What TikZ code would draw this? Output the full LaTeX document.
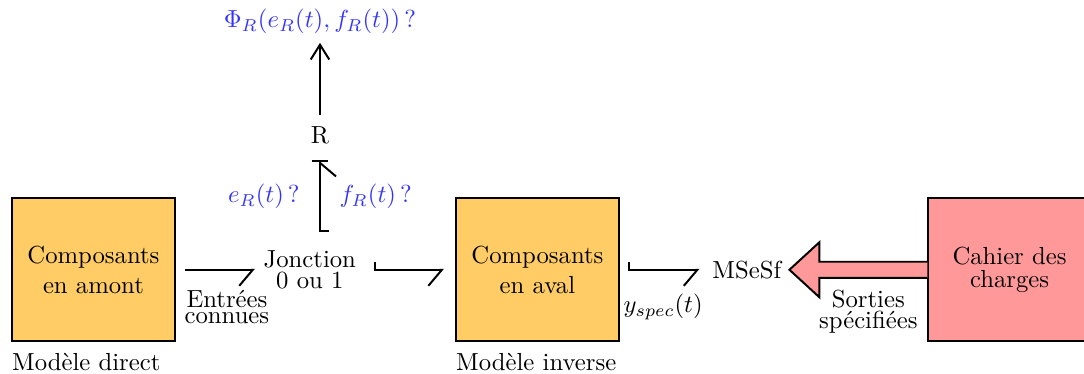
\documentclass[tikz,border=0pt]{standalone}
\usepackage{amsmath,amssymb}
\usepackage{xcolor}
\usepackage{tikz}
\usetikzlibrary{arrows.meta}
\definecolor{orangebox}{HTML}{FFCC66}
\definecolor{rosebox}{HTML}{FF9999}
\definecolor{bleu}{HTML}{3333FF}

\begin{document}
\begin{tikzpicture}[
	bloc/.style = {draw, thick, minimum width=2.31cm, minimum height=2.04cm, align=center},
	bond/.style = {thick, -{Straight Barb[harpoon,swap,length=5.5pt,width=13pt]}},
	inconnu/.style = {text=bleu}]
	\useasboundingbox (0,0) rectangle (15.43,5.31);
	\node [bloc, fill=orangebox] (amont) at (1.33,1.47) {Composants\\en amont};
	\node [bloc, fill=orangebox] (aval) at (7.65,1.47) {Composants\\en aval};
	\node [bloc, fill=rosebox] (cahier) at (14.37,1.47) {Cahier des\\[-2.6pt]charges};
	\node [align=center] (jonc) at (4.41,1.47) {Jonction\\[-3.5pt]0 ou 1};
	\node (rr) at (4.555,3.39) {R};
	\node [inconnu] (phi) at (4.555,5.0) {$\Phi_R(e_R(t),f_R(t))\,?$};
	\node (msesf) at (10.63,1.47) {MSeSf};
	% liens
	\draw [bond] ([xshift=0.14cm]amont.east) -- (jonc.west);
	\draw [bond] ([shift={(0.15,0.11)}]jonc.east) |- ([xshift=-0.16cm]aval.west);
	\draw [bond] ([shift={(0.13,0.11)}]aval.east) |- ([xshift=-0.06cm]msesf.west);
	\path (rr.south |- jonc.north) ++(0,0.15) coordinate (rbas);
	\path (rr.south) ++(0,-0.12) coordinate (rhaut);
	\draw [bond] (rbas) ++(0.13,0) -- (rbas) -- (rhaut);
	\draw [thick] (rhaut) ++(-0.12,0) -- ++(0.24,0);
	\draw [thick, -{Straight Barb[length=6pt,width=7.5pt]}, shorten <=1pt] (rr) -- (phi);
	%\draw [thick, fill = rosebox] (cahier.west) -- (msesf.east);
	\draw [thick, fill = rosebox] ([yshift=0.114cm]cahier.west) -- ++(-1.537,0) -- ++(0,0.278) -- ++(-0.427,-0.392) -- ++(0.427,-0.392) -- ++(0,0.278) -- ([yshift=-0.114cm]cahier.west);
	\node [inconnu, anchor=east] (er) at (4.39,2.51) {$e_R(t)\,?$};
	\node [inconnu, anchor=west] (fr) at (4.71,2.51) {$f_R(t)\,?$};
	\node [align=center] (entrees) at (3.23,0.94) {Entrées\\[-5.6pt]connues};
	\node (yspec) at (9.44,0.94) {$y_{spec}(t)$};
	\node [align=center] (sorties) at (12.36,0.87) {Sorties\\[-3.4pt]spécifiées};
	\node [anchor=west] (mdirect) at (0.05,0.16) {Modèle direct};
	\node [anchor=west] (minverse) at (6.37,0.16) {Modèle inverse};
\end{tikzpicture}
\end{document}
